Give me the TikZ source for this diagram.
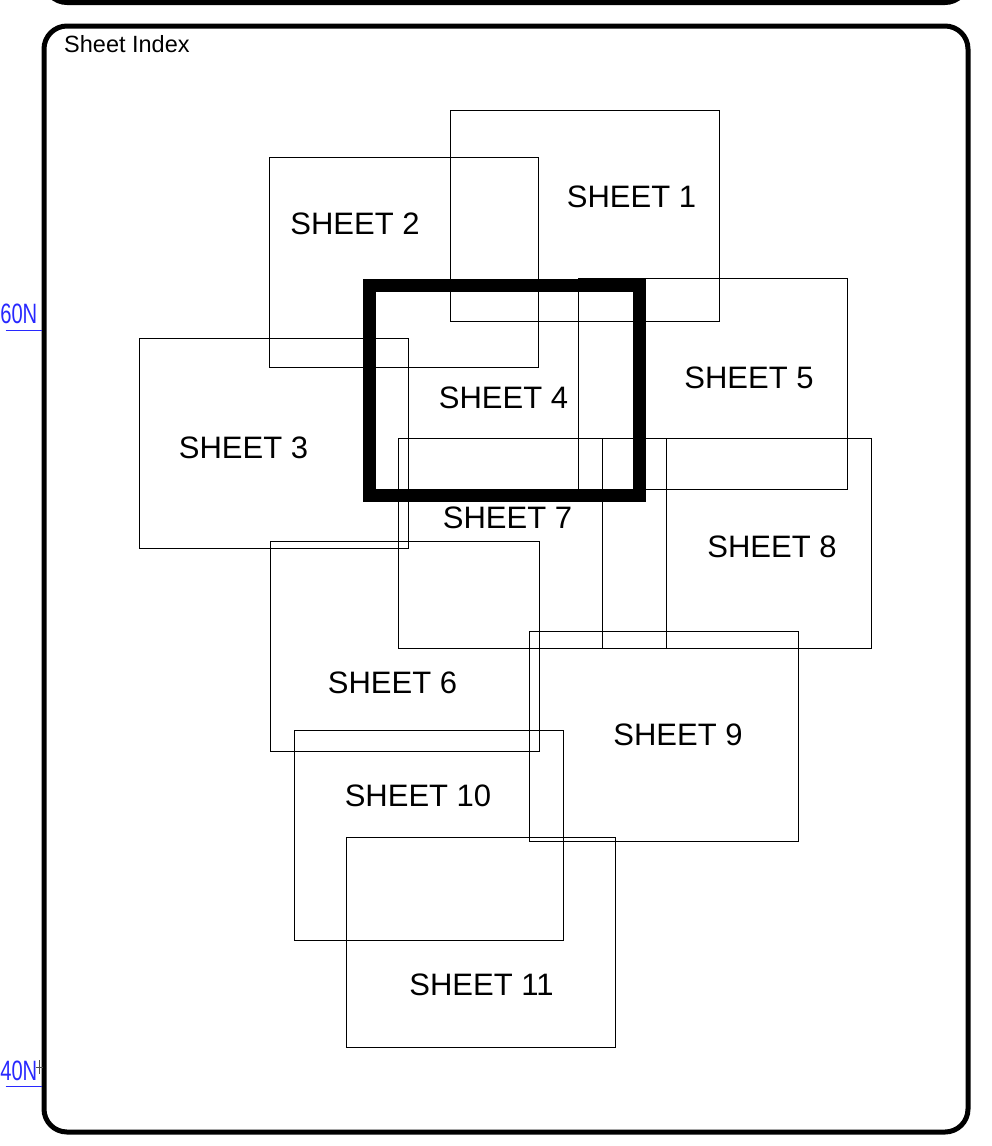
\documentclass[tikz,border=0pt]{standalone}
\usepackage{fontspec}
\setmainfont{Liberation Sans}
\usepackage{tikz}
\usetikzlibrary{positioning}
\definecolor{gridblue}{RGB}{40,40,255}

\begin{document}
\begin{tikzpicture}[
		x=1pt,y=-1pt,
		sheetbox/.style={draw=black,line width=0.9pt},
		activebox/.style={draw=black,line width=13pt},
		sheetlabel/.style={inner sep=0pt,font=\fontsize{31}{31}\selectfont},
		framebox/.style={draw=black,line width=5pt,rounded corners=23pt},
		gridlabel/.style={inner sep=0pt,text=gridblue,font=\fontsize{28}{28}\selectfont}
		]
		
		\useasboundingbox (0,0) rectangle (992,1146);
		
		% frames
		\draw[framebox] (44,-120) rectangle (968,2.5);
		\draw[framebox] (44,26) rectangle (968,1132);
		\node[anchor=base west,inner sep=0pt,font=\fontsize{23.5}{23.5}\selectfont]
		(title) at (64,52.3) {Sheet Index};
		
		% sheets
		\draw[sheetbox] (450,110.5) rectangle (719,321);
		\node[sheetlabel] (sheet1) at (631.5,196.7) {SHEET 1};
		
		\draw[sheetbox] (269,157) rectangle (538,367);
		\node[sheetlabel] (sheet2) at (355,223.5) {SHEET 2};
		
		\draw[sheetbox] (139,338) rectangle (408.5,548.5);
		\node[sheetlabel] (sheet3) at (243.5,447.5) {SHEET 3};
		
		\draw[sheetbox] (578,278) rectangle (847.5,489);
		\node[sheetlabel] (sheet5) at (749,377.5) {SHEET 5};
		
		\draw[sheetbox] (398,438) rectangle (666,648);
		\node[sheetlabel] (sheet7) at (507.5,517.5) {SHEET 7};
		
		\draw[sheetbox] (602,438) rectangle (871,648);
		\node[sheetlabel] (sheet8) at (772,546.5) {SHEET 8};
		
		\draw[sheetbox] (270,541) rectangle (539,751);
		\node[sheetlabel] (sheet6) at (392.5,683.3) {SHEET 6};
		
		\draw[sheetbox] (529,631) rectangle (798,841);
		\node[sheetlabel] (sheet9) at (678,734.5) {SHEET 9};
		
		\draw[sheetbox] (294,730) rectangle (563,940);
		\node[sheetlabel] (sheet10) at (418,795.5) {SHEET 10};
		
		\draw[sheetbox] (346,837) rectangle (615,1047);
		\node[sheetlabel] (sheet11) at (481.5,984.5) {SHEET 11};
		
		% current sheet
		\draw[activebox] (369.5,285) rectangle (639,495.5);
		\node[sheetlabel] (sheet4) at (503.5,397.5) {SHEET 4};
		
		% grid ticks
		\node[gridlabel,anchor=base east] (lat60) at (37.5,323) {\scalebox{0.72}[1]{60N}};
		\draw[gridblue,line width=0.9pt] (5.7,330) -- (42,330);
		
		\node[gridlabel,anchor=base east] (lat40) at (37.5,1080) {\scalebox{0.72}[1]{40N}};
		\draw[gridblue,line width=0.9pt] (5.7,1086) -- (42,1086);
		\draw[black!70,line width=0.8pt] (35.5,1067.3) -- (43,1067.3);
		\draw[black!70,line width=0.8pt] (39.3,1060) -- (39.3,1074);
		
	\end{tikzpicture}
\end{document}
